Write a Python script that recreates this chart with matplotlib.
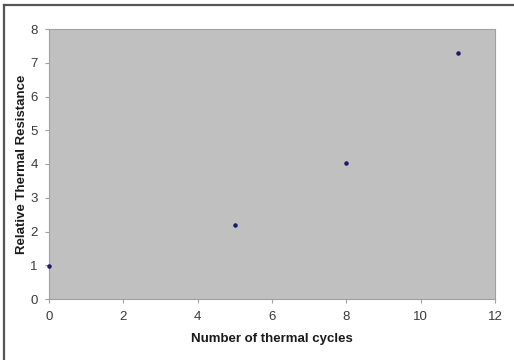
import matplotlib
matplotlib.use("Agg")
import matplotlib.pyplot as plt
from matplotlib.lines import Line2D

cycles = [0, 5, 8, 11]
resistance = [0.97, 2.2, 4.02, 7.3]
xticks = [0, 2, 4, 6, 8, 10, 12]
yticks = [0, 1, 2, 3, 4, 5, 6, 7, 8]

plt.rcParams['font.family'] = ['Liberation Sans', 'DejaVu Sans']

W, H = 514, 360
fig = plt.figure(figsize=(W/100, H/100), dpi=100)
fig.patch.set_facecolor('white')

# outer frame lines (left and top)
fig.add_artist(Line2D([3.5/W, 3.5/W], [0, 1-5/H], transform=fig.transFigure, color='#555555', lw=1.6))
fig.add_artist(Line2D([3.5/W, 513/W], [1-5/H, 1-5/H], transform=fig.transFigure, color='#555555', lw=1.6))

left, right, top, bottom = 49, 495, 29, 299
ax = fig.add_axes([left/W, 1-bottom/H, (right-left)/W, (bottom-top)/H])
ax.set_facecolor('#C0C0C0')
ax.scatter(cycles, resistance, s=5, color='#1a1a6e', zorder=3, clip_on=False)
ax.set_xlim(0, 12)
ax.set_ylim(0, 8)
ax.set_xticks(xticks)
ax.set_yticks(yticks)
for s in ax.spines.values():
    s.set_color('#a0a0a0')
    s.set_linewidth(0.8)
ax.tick_params(axis='both', colors='#a0a0a0', labelcolor='#3a3a3a', labelsize=9.5, length=3, width=0.8, direction='out')
ax.tick_params(axis='x', pad=6)
ax.tick_params(axis='y', pad=5)
ax.set_xlabel('Number of thermal cycles', fontsize=9.5, fontweight='bold', color='#1a1a1a', labelpad=7)
ax.set_ylabel('Relative Thermal Resistance', fontsize=9.5, fontweight='bold', color='#1a1a1a', labelpad=2)

fig.savefig('out.png', dpi=100)
